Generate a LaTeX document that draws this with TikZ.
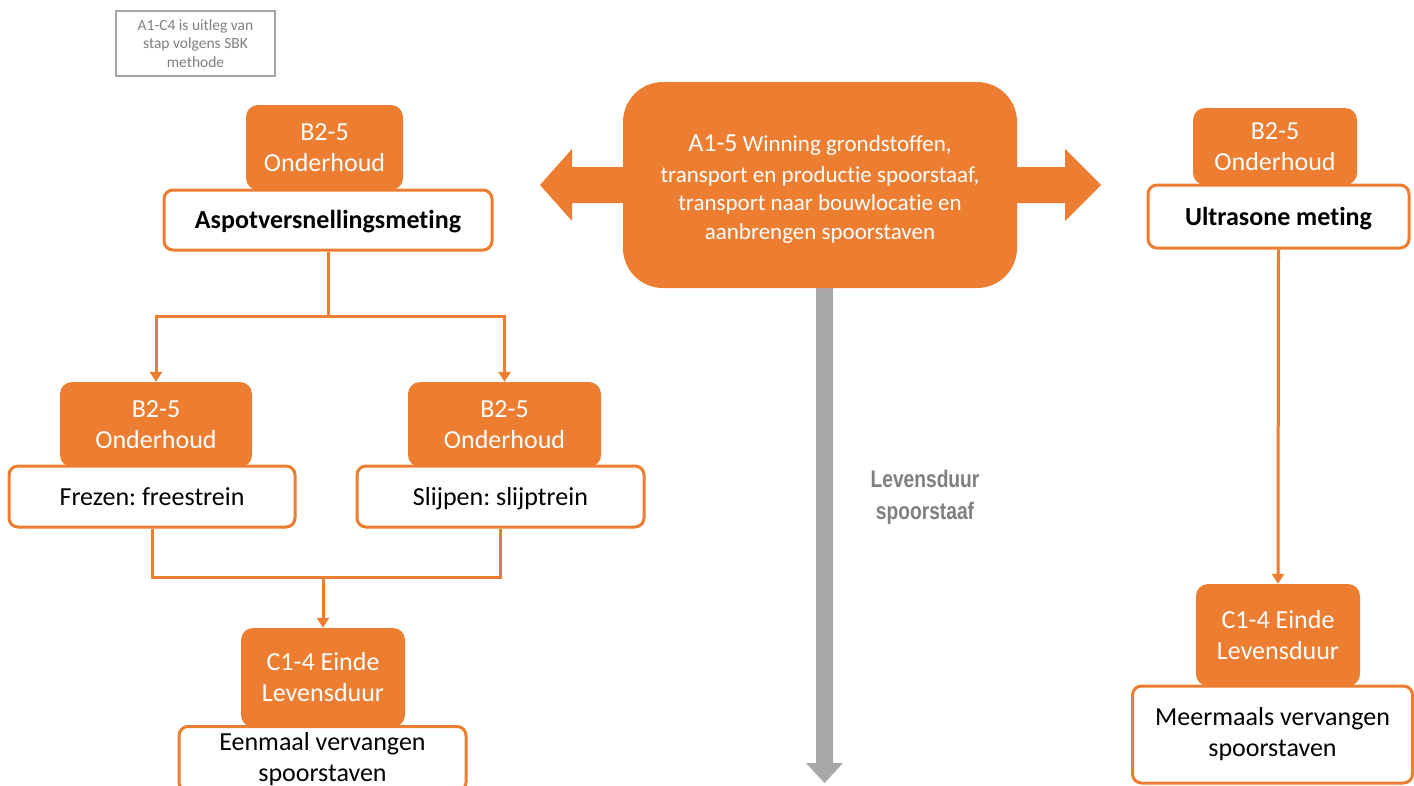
\documentclass[tikz,border=0pt]{standalone}
\usepackage{fontspec}
\setmainfont{Carlito}[Ligatures={NoCommon}]
\newfontfamily\labelfont{Liberation Sans}
\usetikzlibrary{arrows.meta}
\frenchspacing
\definecolor{orng}{HTML}{ED7D31}
\definecolor{arrgray}{HTML}{A9A7A7}
\definecolor{txtgray}{HTML}{7F7F7F}
\definecolor{notegray}{HTML}{A6A6A6}
\tikzset{
  orangebox/.style={fill=orng, rounded corners=12pt, text=white, align=center, inner sep=0pt,
    font=\fontsize{26}{31}\selectfont},
  whitebox/.style={draw=orng, line width=3pt, fill=white, rounded corners=9pt, align=center, inner sep=0pt,
    font=\fontsize{26}{31}\selectfont},
  oneline/.style={text height=17pt, text depth=0pt},
  conn/.style={draw=orng, line width=3pt},
  arr/.style={conn, -{Triangle[width=12pt,length=10pt]}},
  notebox/.style={draw=notegray, line width=1.2pt, text=txtgray, align=center, inner sep=0pt,
    font=\fontsize{15.5}{18.5}\selectfont}
}
\begin{document}
\begin{tikzpicture}[x=1pt,y=-1pt]
\useasboundingbox (0,0) rectangle (1414,785);
\fill[white] (0,0) rectangle (1414,785);

% note
\node[notebox, minimum width=159pt, minimum height=65pt] (note) at (195.5,43.5)
  {A1-C4 is uitleg van\\stap volgens SBK\\methode};

% gray life arrow
\fill[arrgray] (816,285) -- (833,285) -- (833,763) -- (843,763) -- (824.5,783) -- (806,763) -- (816,763) -- cycle;
\node[text=txtgray, inner sep=0pt] (life) at (925,497)
  {\scalebox{0.8}[1]{\labelfont\bfseries\fontsize{24}{32}\selectfont\begin{tabular}{@{}c@{}}Levensduur\\spoorstaaf\end{tabular}}};

% double arrow
\fill[orng] (540,185) -- (572,149) -- (572,167) -- (1065,167) -- (1065,149) -- (1101,185)
  -- (1065,221) -- (1065,203) -- (572,203) -- (572,221) -- cycle;

% central box
\node[orangebox, rounded corners=40pt, minimum width=394pt, minimum height=206pt,
  font=\fontsize{23}{28.5}\selectfont] (a15) at (820,185) {};
\node[text=white, align=center, inner sep=0pt, font=\fontsize{23}{28.5}\selectfont] (a15t) at ([yshift=-4pt]a15.center)
  {{\fontsize{26}{28.5}\selectfont A1-5} Winning grondstoffen,\\[2pt]transport en productie spoorstaaf,\\transport naar bouwlocatie en\\aanbrengen spoorstaven};

% left column
\node[orangebox, minimum width=157pt, minimum height=85pt] (b25l) at (324.5,147.5) {B2-5\\Onderhoud};
\node[whitebox, oneline, minimum width=328pt, minimum height=60pt, font=\fontsize{26}{31}\selectfont\bfseries] (asp) at (328,220) {Aspotversnellingsmeting};

\node[orangebox, minimum width=192pt, minimum height=85pt] (b25a) at (156,424.5) {B2-5\\Onderhoud};
\node[orangebox, minimum width=193pt, minimum height=85pt] (b25b) at (504.5,424.5) {B2-5\\Onderhoud};
\node[whitebox, oneline, minimum width=286pt, minimum height=61pt] (frez) at (152,496.5) {Frezen: freestrein};
\node[whitebox, oneline, minimum width=287pt, minimum height=61pt] (slij) at (500.5,496.5) {Slijpen: slijptrein};

\node[orangebox, minimum width=164pt, minimum height=99pt] (c14l) at (323,677.5) {C1-4 Einde\\Levensduur};
\node[whitebox, minimum width=287pt, minimum height=65pt] (eenm) at (322.5,759) {Eenmaal vervangen\\spoorstaven};

% left connectors
\draw[conn] (asp.south) -- (asp.south |- 0,316) coordinate (j1);
\draw[arr] (j1) -| (b25a.north);
\draw[arr] (j1) -| (b25b.north);
\draw[conn] (frez.south) -- (frez.south |- 0,577) -| (slij.south);
\coordinate (j2) at (c14l.north |- 0,577);
\draw[arr] (j2) -- (c14l.north);

% right column
\node[orangebox, minimum width=164pt, minimum height=77pt] (b25r) at (1275,146.5) {B2-5\\Onderhoud};
\node[whitebox, oneline, minimum width=261pt, minimum height=63pt, font=\fontsize{26}{31}\selectfont\bfseries] (ultr) at (1278.5,216.5) {Ultrasone meting};
\node[orangebox, minimum width=164pt, minimum height=102pt] (c14r) at (1278,635) {C1-4 Einde\\Levensduur};
\node[whitebox, minimum width=280pt, minimum height=97pt] (meer) at (1272.5,734.5) {Meermaals vervangen\\spoorstaven};
\draw[arr] (ultr.south) -- (c14r.north);
\end{tikzpicture}
\end{document}
